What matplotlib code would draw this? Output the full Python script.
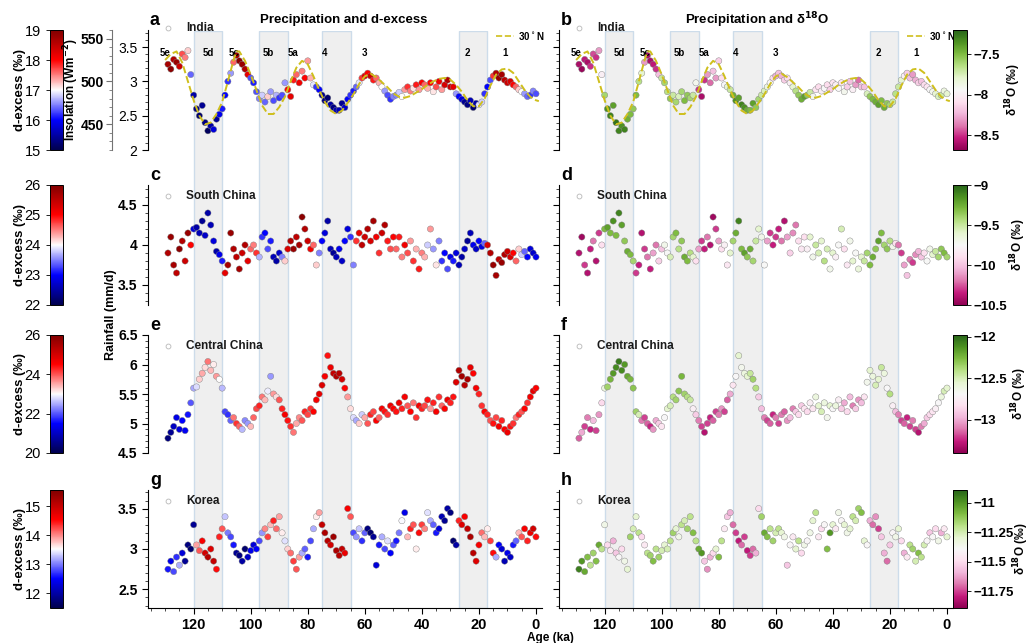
import numpy as np
import matplotlib
matplotlib.use("Agg")
import matplotlib.pyplot as plt
from matplotlib.ticker import MultipleLocator, FuncFormatter
from matplotlib.colors import Normalize
from matplotlib.cm import ScalarMappable

plt.rcParams['font.family'] = ['Liberation Sans', 'DejaVu Sans']
plt.rcParams['axes.linewidth'] = 0.8

# ----------------------------------------------------------------------
# data, ages 129 ka -> 0 ka in 1 ka steps
# ----------------------------------------------------------------------
age = list(range(129, -1, -1))

# 30N insolation (W m-2)
ins_age = [130, 128, 126, 124, 122, 120, 118, 116, 114, 112, 110, 108, 106, 105,
           104, 102, 100, 98, 96, 94, 92, 90, 88, 86, 84, 82, 80, 78, 76, 74,
           72, 70, 68, 66, 64, 62, 60, 58, 56, 54, 52, 50, 48, 46, 44, 42, 40,
           38, 36, 34, 32, 30, 28, 26, 24, 22, 20, 18, 16, 14, 12, 10, 8, 6,
           4, 2, 0, -1]
ins_val = [525, 532, 535, 522, 500, 478, 460, 450, 452, 462, 476, 500, 525, 535,
           535, 524, 508, 490, 472, 462, 462, 470, 482, 500, 516, 524, 520, 506,
           490, 476, 466, 462, 466, 475, 485, 497, 506, 509, 505, 499, 493, 486,
           482, 481, 483, 487, 491, 496, 500, 503, 504, 502, 496, 488, 478, 471,
           471, 480, 495, 508, 514, 515, 510, 500, 490, 482, 478, 477]

india_rain = [3.25, 3.18, 3.32, 3.28, 3.22, 3.40, 3.35, 3.45, 3.10, 2.80,
              2.60, 2.50, 2.65, 2.40, 2.28, 2.35, 2.30, 2.45, 2.52, 2.60,
              2.80, 3.00, 3.12, 3.28, 3.38, 3.30, 3.25, 3.18, 3.10, 3.05,
              2.98, 2.85, 2.75, 2.80, 2.70, 2.78, 2.85, 2.72, 2.80, 2.76,
              2.80, 2.98, 2.88, 2.78, 3.02, 3.10, 2.98, 3.15, 3.05, 3.30,
              3.05, 2.95, 2.92, 2.88, 2.80, 2.72, 2.76, 2.66, 2.62, 2.58,
              2.58, 2.68, 2.62, 2.74, 2.80, 2.86, 2.92, 2.98, 3.05, 3.08,
              3.12, 3.08, 3.02, 3.05, 2.98, 2.92, 2.86, 2.80, 2.74, 2.78,
              2.80, 2.84, 2.78, 2.88, 2.92, 2.86, 2.90, 2.95, 2.88, 2.98,
              2.95, 2.90, 2.98, 2.85, 2.92, 3.00, 2.88, 2.95, 3.02, 2.92,
              2.92, 2.82, 2.78, 2.74, 2.70, 2.66, 2.72, 2.62, 2.68, 2.66,
              2.70, 2.82, 2.92, 3.02, 3.08, 3.12, 3.05, 3.10, 3.02, 2.98,
              3.00, 2.95, 2.92, 2.88, 2.85, 2.82, 2.78, 2.80, 2.86, 2.82]
india_dex = [18.7, 18.9, 18.6, 18.8, 18.4, 17.7, 17.5, 17.2, 16.4, 15.5,
             15.3, 15.2, 15.4, 15.3, 15.1, 15.5, 15.8, 15.4, 15.9, 16.1,
             16.0, 16.2, 16.6, 17.6, 18.7, 18.9, 18.8, 18.6, 18.2, 16.3,
             16.1, 16.3, 16.5, 16.8, 16.4, 17.2, 16.6, 16.3, 16.7, 16.2,
             16.3, 16.6, 18.0, 18.2, 17.9, 17.6, 18.1, 17.5, 18.0, 17.4,
             17.3, 16.9, 16.2, 16.0, 15.4, 15.3, 15.2, 15.5, 15.3, 15.6,
             15.6, 15.4, 15.7, 16.0, 16.2, 16.1, 16.4, 16.9, 17.8, 18.2,
             18.0, 18.4, 17.9, 17.6, 17.3, 17.0, 16.6, 16.3, 16.2, 16.5,
             16.5, 16.8, 17.0, 17.4, 17.8, 17.5, 17.1, 17.9, 17.4, 18.0,
             17.6, 17.3, 18.0, 17.1, 17.7, 18.1, 17.4, 18.3, 18.6, 18.4,
             18.2, 16.6, 16.0, 15.8, 15.4, 15.3, 15.6, 15.2, 15.5, 16.9,
             16.8, 16.2, 16.0, 16.3, 17.8, 18.6, 18.8, 18.7, 18.5, 18.4,
             18.3, 18.0, 17.6, 17.2, 17.0, 16.6, 16.4, 16.2, 16.5, 16.3]
india_d18o = [-8.60, -8.65, -8.55, -8.60, -8.50, -8.45, -8.50, -8.30, -8.00, -7.60,
              -7.35, -7.30, -7.40, -7.25, -7.30, -7.35, -7.30, -7.45, -7.50, -7.55,
              -7.50, -7.65, -7.80, -8.30, -8.60, -8.60, -8.55, -8.50, -8.20, -7.70,
              -7.60, -7.65, -7.55, -7.70, -7.60, -7.75, -7.60, -7.50, -7.55, -7.60,
              -7.70, -7.90, -8.50, -8.60, -8.50, -8.30, -8.40, -8.20, -8.30, -8.15,
              -8.10, -7.95, -7.80, -7.70, -7.45, -7.35, -7.40, -7.30, -7.35, -7.45,
              -7.50, -7.40, -7.55, -7.60, -7.70, -7.75, -7.85, -7.95, -8.10, -8.25,
              -8.20, -8.25, -8.15, -8.10, -8.00, -7.80, -7.65, -7.55, -7.45, -7.40,
              -7.55, -7.70, -7.90, -8.05, -8.10, -8.00, -7.95, -8.10, -8.15, -8.05,
              -8.00, -7.95, -8.05, -7.90, -8.15, -8.20, -8.00, -8.30, -8.40, -8.20,
              -8.20, -7.75, -7.55, -7.50, -7.45, -7.40, -7.50, -7.45, -7.55, -7.60,
              -7.70, -7.65, -7.70, -7.80, -8.00, -8.15, -8.20, -8.30, -8.25, -8.15,
              -8.20, -8.10, -8.05, -7.95, -7.90, -7.80, -7.75, -7.70, -7.85, -7.80]

schina_rain = [3.90, 4.10, 3.75, 3.65, 3.95, 4.05, 3.80, 4.15, 4.00, 4.20,
               4.22, 4.15, 4.30, 4.12, 4.40, 4.25, 4.05, 3.92, 3.88, 3.80,
               3.65, 3.75, 4.15, 3.95, 3.85, 3.70, 3.90, 4.00, 3.80, 3.95,
               4.00, 3.90, 3.85, 4.10, 4.15, 3.95, 4.05, 3.85, 3.80, 3.90,
               3.85, 3.80, 3.95, 4.05, 3.95, 4.10, 4.00, 4.35, 4.20, 4.05,
               3.95, 4.00, 3.75, 3.90, 4.05, 4.15, 4.30, 3.95, 3.90, 3.85,
               3.95, 3.80, 4.05, 4.20, 4.10, 3.75, 4.05, 4.15, 4.00, 4.10,
               4.20, 4.05, 4.30, 4.10, 3.90, 4.15, 4.25, 4.05, 3.95, 4.10,
               3.95, 4.10, 3.85, 4.00, 3.90, 4.05, 3.80, 3.95, 3.70, 3.90,
               3.85, 4.00, 4.20, 3.95, 3.75, 4.05, 3.80, 3.90, 3.70, 3.85,
               3.80, 3.90, 3.75, 3.85, 3.95, 4.05, 4.15, 4.00, 3.95, 4.05,
               3.98, 4.02, 4.00, 3.90, 3.75, 3.62, 3.82, 3.78, 3.88, 3.92,
               3.85, 3.90, 3.80, 3.95, 3.88, 3.92, 3.85, 3.95, 3.90, 3.85]
schina_dex = [25.6, 25.8, 25.7, 25.5, 25.9, 25.6, 25.4, 25.8, 25.0, 22.8,
              22.5, 22.6, 22.4, 22.7, 22.5, 22.6, 22.8, 22.5, 22.9, 23.1,
              25.2, 25.7, 25.8, 25.6, 25.5, 25.7, 25.4, 25.6, 25.2, 24.6,
              24.5, 24.8, 23.7, 23.2, 23.0, 23.3, 23.1, 22.6, 22.5, 22.7,
              23.5, 24.2, 25.3, 25.6, 25.8, 25.5, 25.7, 25.9, 25.6, 25.4,
              25.1, 24.6, 24.2, 23.5, 23.0, 22.8, 22.5, 22.6, 22.4, 22.6,
              22.9, 22.7, 23.0, 22.8, 23.2, 23.5, 24.8, 25.2, 25.5, 25.4,
              25.6, 25.3, 25.7, 25.1, 24.8, 25.4, 25.6, 24.9, 24.7, 25.0,
              24.6, 24.9, 24.5, 25.1, 24.7, 24.4, 24.8, 24.3, 24.9, 24.5,
              24.3, 23.8, 24.4, 23.6, 24.1, 23.5, 23.2, 23.0, 23.3, 22.9,
              23.1, 22.8, 22.6, 22.5, 22.7, 22.4, 22.6, 22.9, 22.7, 23.0,
              22.8, 23.4, 25.3, 25.6, 25.8, 25.7, 25.5, 25.8, 25.6, 25.4,
              25.3, 25.0, 24.6, 24.2, 23.8, 23.4, 23.0, 22.8, 22.7, 22.9]
schina_d18o = [-10.40, -10.45, -10.30, -10.40, -10.35, -10.20, -10.40, -10.30, -9.90, -9.30,
               -9.20, -9.30, -9.15, -9.30, -9.10, -9.20, -9.35, -9.25, -9.30, -9.40,
               -10.30, -10.35, -10.40, -10.30, -10.20, -10.35, -10.10, -10.20, -9.95, -10.00,
               -9.70, -9.75, -9.55, -9.40, -9.30, -9.45, -9.35, -9.25, -9.30, -9.45,
               -9.60, -9.90, -10.10, -10.30, -10.35, -10.20, -10.40, -10.45, -10.30, -10.10,
               -9.90, -9.80, -9.85, -9.60, -9.40, -9.25, -9.10, -9.30, -9.20, -9.35,
               -9.25, -9.40, -9.50, -9.60, -9.70, -9.75, -10.10, -10.30, -10.35, -10.30,
               -10.35, -10.20, -10.40, -10.10, -9.95, -10.15, -10.20, -9.90, -9.85, -9.90,
               -9.80, -9.60, -9.70, -9.50, -9.55, -9.60, -9.45, -9.55, -9.70, -9.60,
               -9.80, -9.75, -9.55, -9.90, -9.85, -9.70, -9.60, -9.75, -9.65, -9.60,
               -9.50, -9.40, -9.30, -9.25, -9.35, -9.20, -9.30, -9.40, -9.35, -9.45,
               -9.70, -9.90, -10.20, -10.30, -10.10, -10.00, -10.20, -10.30, -10.15, -10.05,
               -10.00, -9.90, -9.75, -9.70, -9.60, -9.50, -9.40, -9.35, -9.30, -9.40]

cchina_rain = [4.75, 4.85, 4.95, 5.10, 4.90, 5.05, 4.88, 5.15, 5.35, 5.60,
               5.62, 5.75, 5.85, 5.95, 6.05, 5.90, 6.00, 5.80, 5.75, 5.60,
               5.20, 5.15, 5.05, 5.10, 5.00, 4.95, 4.90, 5.05, 5.00, 4.95,
               5.10, 5.25, 5.30, 5.45, 5.40, 5.55, 5.80, 5.50, 5.45, 5.40,
               5.25, 5.15, 5.05, 4.95, 4.85, 5.00, 5.10, 5.05, 5.20, 5.15,
               5.25, 5.20, 5.40, 5.50, 5.65, 5.80, 6.15, 5.95, 5.85, 5.80,
               5.85, 5.75, 5.60, 5.45, 5.25, 5.10, 5.05, 5.00, 5.15, 5.10,
               5.00, 5.15, 5.20, 5.05, 5.10, 5.25, 5.20, 5.15, 5.30, 5.25,
               5.20, 5.35, 5.25, 5.45, 5.30, 5.20, 5.35, 5.10, 5.30, 5.25,
               5.30, 5.40, 5.25, 5.35, 5.20, 5.45, 5.30, 5.25, 5.40, 5.35,
               5.45, 5.70, 5.90, 5.80, 5.65, 5.75, 5.95, 5.85, 5.60, 5.50,
               5.30, 5.20, 5.15, 5.05, 5.00, 5.10, 4.95, 5.05, 4.90, 4.85,
               4.95, 5.00, 5.10, 5.15, 5.20, 5.25, 5.35, 5.45, 5.55, 5.60]
cchina_dex = [20.4, 20.6, 21.0, 21.3, 21.2, 21.5, 21.4, 21.6, 22.0, 22.5,
              22.8, 23.3, 23.5, 23.2, 23.8, 23.4, 23.1, 23.6, 23.0, 22.6,
              21.9, 21.8, 22.1, 23.8, 24.2, 23.9, 22.6, 22.3, 22.4, 23.4,
              23.9, 24.1, 24.3, 23.8, 23.4, 22.9, 22.4, 23.6, 23.2, 24.0,
              24.3, 24.6, 24.4, 24.2, 23.8, 23.5, 23.7, 24.0, 24.3, 24.1,
              24.2, 24.5, 24.6, 24.8, 24.9, 24.6, 24.4, 24.7, 25.2, 25.4,
              25.3, 25.0, 24.5, 23.6, 23.2, 22.8, 22.5, 23.3, 22.7, 23.5,
              24.0, 24.3, 24.1, 24.5, 23.9, 24.6, 24.4, 24.2, 24.7, 24.5,
              24.4, 24.7, 24.3, 24.6, 24.0, 24.5, 23.8, 24.2, 24.6, 24.3,
              24.1, 24.4, 23.6, 24.3, 24.6, 24.2, 23.9, 24.5, 24.7, 24.3,
              24.4, 24.9, 25.4, 25.6, 25.3, 25.5, 24.8, 24.5, 24.6, 24.3,
              24.2, 24.5, 24.3, 24.0, 24.4, 24.1, 24.6, 24.3, 24.5, 24.7,
              24.4, 24.2, 23.8, 24.3, 24.0, 24.5, 24.2, 24.6, 24.8, 24.5]
cchina_d18o = [-13.15, -13.00, -13.20, -13.10, -13.25, -12.95, -13.20, -13.05, -12.85, -12.60,
               -12.35, -12.25, -12.15, -12.10, -12.05, -12.10, -12.15, -12.20, -12.25, -12.30,
               -12.35, -12.50, -13.10, -13.20, -13.15, -13.25, -13.05, -13.00, -12.90, -12.80,
               -12.70, -12.55, -12.50, -12.40, -12.35, -12.30, -12.25, -12.35, -12.40, -12.45,
               -12.75, -12.90, -13.10, -13.20, -13.30, -13.20, -13.25, -13.15, -13.20, -13.10,
               -13.05, -13.20, -13.15, -13.00, -12.80, -12.70, -12.55, -12.65, -12.60, -12.55,
               -12.45, -12.35, -12.40, -12.90, -12.95, -13.10, -13.20, -13.15, -13.25, -13.10,
               -13.20, -13.10, -13.15, -13.05, -12.95, -13.10, -12.90, -12.85, -12.90, -12.80,
               -12.85, -12.75, -12.80, -12.60, -12.55, -12.50, -12.60, -12.65, -12.55, -12.70,
               -12.60, -12.75, -12.90, -13.00, -12.85, -12.95, -13.10, -12.90, -13.05, -12.95,
               -12.80, -12.65, -12.55, -12.60, -12.50, -12.55, -12.45, -12.60, -12.70, -12.40,
               -12.75, -12.95, -13.10, -13.20, -13.15, -13.25, -13.20, -13.10, -13.20, -13.30,
               -13.10, -13.00, -12.90, -12.85, -12.80, -12.75, -12.70, -12.60, -12.50, -12.55]

korea_rain = [2.75, 2.85, 2.72, 2.90, 2.80, 2.95, 2.85, 3.05, 3.00, 3.30,
              3.05, 2.98, 3.10, 2.95, 2.90, 3.00, 2.85, 2.75, 3.15, 3.25,
              3.40, 3.20, 3.15, 3.05, 2.95, 2.92, 2.85, 3.00, 2.90, 2.98,
              3.05, 3.00, 3.10, 3.20, 3.25, 3.15, 3.30, 3.35, 3.25, 3.40,
              3.20, 3.10, 3.00, 2.95, 2.85, 2.75, 2.90, 2.95, 3.00, 2.90,
              3.10, 3.25, 3.40, 3.45, 3.30, 3.20, 3.10, 3.05, 3.15, 2.98,
              2.92, 3.00, 2.95, 3.50, 3.40, 3.20, 3.15, 3.25, 3.10, 3.20,
              3.25, 3.20, 3.15, 2.80, 3.05, 3.15, 3.00, 3.10, 2.95, 3.05,
              3.10, 3.20, 3.35, 3.45, 3.15, 3.25, 3.30, 3.00, 3.20, 3.30,
              3.25, 3.45, 3.35, 3.30, 3.20, 3.25, 3.40, 3.35, 3.50, 3.45,
              3.10, 3.05, 3.35, 3.30, 3.40, 3.25, 3.15, 2.95, 2.85, 3.05,
              3.20, 3.15, 3.25, 3.10, 2.95, 2.90, 3.05, 3.00, 2.85, 2.95,
              2.90, 3.05, 3.10, 3.20, 3.15, 3.25, 3.10, 3.20, 3.25, 3.15]
korea_dex = [12.6, 12.4, 12.8, 12.7, 13.2, 12.3, 11.9, 11.8, 11.7, 11.9,
             13.9, 14.2, 14.6, 14.9, 15.1, 14.8, 15.0, 14.5, 14.4, 14.2,
             13.3, 13.0, 12.8, 12.6, 11.9, 11.8, 12.0, 11.7, 12.2, 12.4,
             12.3, 12.5, 12.8, 13.1, 14.0, 14.3, 13.8, 14.4, 14.1, 13.9,
             13.6, 13.4, 13.7, 14.1, 14.3, 14.2, 13.9, 13.2, 12.9, 12.6,
             12.8, 13.2, 13.6, 13.9, 15.0, 15.2, 15.1, 14.9, 15.3, 15.2,
             15.1, 15.0, 14.7, 14.6, 14.2, 12.8, 13.1, 13.3, 12.7, 12.9,
             11.8, 11.7, 11.9, 12.3, 12.6, 13.2, 12.8, 13.4, 12.5, 12.9,
             12.6, 13.0, 13.5, 12.4, 13.8, 14.4, 14.2, 13.6, 14.5, 14.3,
             14.0, 13.4, 13.2, 12.9, 12.6, 12.3, 12.1, 11.9, 12.0, 11.8,
             11.7, 12.0, 14.4, 14.8, 14.6, 15.0, 15.2, 15.1, 14.8, 14.6,
             14.1, 13.8, 13.6, 14.3, 14.5, 13.2, 12.5, 12.3, 12.1, 12.4,
             12.2, 12.6, 12.9, 13.8, 14.2, 14.6, 14.4, 14.7, 14.9, 14.5]
korea_d18o = [-10.95, -11.00, -11.05, -11.10, -11.20, -11.15, -11.10, -11.05, -11.20, -11.35,
              -11.50, -11.45, -11.60, -11.55, -11.40, -11.50, -11.35, -11.30, -11.15, -11.25,
              -11.30, -11.20, -11.50, -11.45, -11.20, -11.15, -11.10, -11.20, -11.15, -11.25,
              -11.30, -11.25, -11.20, -11.15, -11.30, -11.35, -11.20, -11.25, -11.15, -11.20,
              -11.10, -11.20, -11.05, -11.00, -11.55, -11.65, -11.60, -11.50, -11.30, -11.10,
              -11.20, -11.45, -11.55, -11.60, -11.70, -11.75, -11.80, -11.70, -11.75, -11.80,
              -11.75, -11.70, -11.60, -11.50, -11.15, -11.05, -11.10, -11.20, -11.15, -11.25,
              -11.20, -11.30, -11.35, -11.55, -11.40, -11.45, -11.30, -11.20, -11.50, -11.35,
              -11.40, -11.35, -11.30, -11.20, -11.45, -11.50, -11.40, -11.10, -11.00, -11.30,
              -11.45, -11.35, -11.40, -11.30, -11.35, -11.30, -11.20, -11.25, -11.15, -11.10,
              -11.30, -11.40, -11.60, -11.70, -11.65, -11.75, -11.55, -11.60, -11.70, -11.55,
              -11.40, -11.35, -11.30, -11.50, -11.60, -11.45, -11.20, -11.15, -11.25, -11.10,
              -11.20, -11.25, -11.40, -11.55, -11.40, -11.50, -11.35, -11.60, -11.45, -11.30]

regions = ["India", "South China", "Central China", "Korea"]
rain = [india_rain, schina_rain, cchina_rain, korea_rain]
dex = [india_dex, schina_dex, cchina_dex, korea_dex]
d18o = [india_d18o, schina_d18o, cchina_d18o, korea_d18o]

rain_lim = [(2.0, 3.75), (3.25, 4.75), (4.5, 6.5), (2.27, 3.73)]
rain_ticks = [[2, 2.5, 3, 3.5], [3.5, 4, 4.5], [4.5, 5, 5.5, 6, 6.5], [2.5, 3, 3.5]]
dex_lim = [(15, 19), (22, 26), (20, 26), (11.5, 15.55)]
dex_ticks = [[15, 16, 17, 18, 19], [22, 23, 24, 25, 26], [20, 22, 24, 26], [12, 13, 14, 15]]
d18o_lim = [(-8.68, -7.2), (-10.5, -9.0), (-13.4, -11.98), (-11.89, -10.89)]
d18o_ticks = [[-8.5, -8, -7.5], [-10.5, -10, -9.5, -9], [-13, -12.5, -12],
              [-11.75, -11.5, -11.25, -11]]

# glacial / stadial bands (ka)
bands = [(120, 110), (97, 87), (75, 65), (27, 17)]
stages = ["5e", "5d", "5c", "5b", "5a", "4", "3", "2", "1"]
stage_age = [130, 115, 106, 94, 85, 74, 60, 24, 11]

# ----------------------------------------------------------------------
# layout in pixels
# ----------------------------------------------------------------------
W, H = 1032, 643
fig = plt.figure(figsize=(W / 100, H / 100), dpi=100)


def rect(x0, x1, top, bot):
    return [x0 / W, 1 - bot / H, (x1 - x0) / W, (bot - top) / H]


rows_px = [(30, 150), (185, 305), (335, 453), (490, 608)]
cols_px = [(148, 541.7), (559, 952.7)]
d18o_label_x = [1013, 1018, 1019, 1021]
xlim = (136, -2)
band_col = "#efefef"
band_edge = "#cddcea"
ins_color = "#cfbf1c"
gfmt = FuncFormatter(lambda v, p: f"{v:g}".replace("-", "\u2212"))

# background axes with the bands (full column height)
for (x0, x1) in cols_px:
    bg = fig.add_axes(rect(x0, x1, 31, rows_px[-1][1]))
    bg.set_xlim(*xlim)
    bg.axis("off")
    for b0, b1 in bands:
        bg.axvspan(b0, b1, facecolor=band_col, edgecolor=band_edge, lw=1.0)

letters = "abcdefgh"
for i in range(4):
    top, bot = rows_px[i]
    for j, (x0, x1) in enumerate(cols_px):
        ax = fig.add_axes(rect(x0, x1, top, bot), facecolor="none")
        if j == 0:
            c, cmap, lim = dex[i], "seismic", dex_lim[i]
        else:
            c, cmap, lim = d18o[i], "PiYG", d18o_lim[i]
        ax.scatter(age, rain[i], c=c, cmap=cmap, vmin=lim[0], vmax=lim[1], s=20,
                   edgecolors="0.5", linewidths=0.3, zorder=3)
        ax.set_xlim(*xlim)
        ax.set_ylim(*rain_lim[i])
        ax.set_yticks(rain_ticks[i])
        ax.yaxis.set_major_formatter(gfmt)
        ax.yaxis.set_minor_locator(MultipleLocator(0.1))
        for s in ["top", "right"]:
            ax.spines[s].set_visible(False)
        ax.tick_params(axis="y", which="major", length=4, width=0.8, labelsize=10)
        ax.tick_params(axis="y", which="minor", length=2, width=0.5)
        if i == 0:
            for lab in ax.get_yticklabels():
                lab.set_fontweight("normal")
        else:
            for lab in ax.get_yticklabels():
                lab.set_fontweight("bold")
        if j == 1:
            ax.tick_params(axis="y", labelleft=False)
        if i < 3:
            ax.spines["bottom"].set_visible(False)
            ax.tick_params(axis="x", which="both", bottom=False, labelbottom=False)
        else:
            ax.set_xticks([120, 100, 80, 60, 40, 20, 0])
            ax.xaxis.set_minor_locator(MultipleLocator(5))
            ax.tick_params(axis="x", which="major", length=4, width=0.8, labelsize=10.5)
            ax.tick_params(axis="x", which="minor", length=2, width=0.5)
            for lab in ax.get_xticklabels():
                lab.set_fontweight("bold")

        # panel letter and region label
        ax.text(0.005, 1.012, letters[2 * i + j], transform=ax.transAxes,
                fontsize=13, fontweight="bold", va="bottom", ha="left")
        ly = 1.017 if i == 0 else 0.905
        ax.plot([0.05], [ly], marker="o", ms=3.5, mfc="none", mec="0.72", mew=0.6,
                transform=ax.transAxes, clip_on=False)
        ax.text(0.097, ly, regions[i], transform=ax.transAxes, fontsize=8.5,
                fontweight="bold", va="center", ha="left", color="0.1")

        if i == 0:
            for sl, sa in zip(stages, stage_age):
                ax.text(sa, 3.42, sl, fontsize=7, fontweight="bold", ha="center",
                        va="center", zorder=5)
            # insolation on its own axis
            ia = fig.add_axes(rect(x0, x1, top, bot), facecolor="none")
            ia.plot(ins_age, ins_val, ls="--", color=ins_color, lw=1.4, zorder=4)
            ia.set_xlim(*xlim)
            ia.set_ylim(420, 560)
            ia.xaxis.set_visible(False)
            for s in ["top", "right", "bottom"]:
                ia.spines[s].set_visible(False)
            if j == 0:
                ia.spines["left"].set_position(("axes", -36 / 393.7))
                ia.spines["left"].set_color("0.45")
                ia.set_yticks([450, 500, 550])
                ia.yaxis.set_minor_locator(MultipleLocator(10))
                ia.tick_params(axis="y", which="major", length=4, color="0.45",
                               labelsize=10, pad=2)
                ia.tick_params(axis="y", which="minor", length=2, color="0.45")
                for lab in ia.get_yticklabels():
                    lab.set_fontweight("bold")
            else:
                ia.spines["left"].set_visible(False)
                ia.yaxis.set_visible(False)
            ia.plot([0.885, 0.93], [0.952, 0.952], ls="--", color=ins_color, lw=1.2,
                    transform=ia.transAxes, clip_on=False)
            ia.text(0.94, 0.952, "30$^\\circ$N", transform=ia.transAxes, fontsize=7,
                    fontweight="bold", va="center", ha="left")

        # colour bars
        norm = Normalize(vmin=lim[0], vmax=lim[1])
        if j == 0:
            cax = fig.add_axes(rect(50, 63, top, bot))
            cb = fig.colorbar(ScalarMappable(norm=norm, cmap=cmap), cax=cax)
            cb.set_ticks(dex_ticks[i])
            cax.yaxis.set_ticks_position("left")
            cax.yaxis.set_major_formatter(gfmt)
            cax.tick_params(labelsize=10.5, length=3, width=0.6)
            cb.outline.set_linewidth(0.7)
            fig.text(20 / W, 1 - (top + bot) / 2 / H, "d-excess (\u2030)", rotation=90,
                     fontsize=9.5, fontweight="bold", ha="center", va="center")
        else:
            cax = fig.add_axes(rect(952.7, 967, top, bot))
            cb = fig.colorbar(ScalarMappable(norm=norm, cmap=cmap), cax=cax)
            cb.set_ticks(d18o_ticks[i])
            cax.yaxis.set_major_formatter(gfmt)
            cax.tick_params(labelsize=9.5, length=3, width=0.6, pad=1.5)
            for lab in cax.get_yticklabels():
                lab.set_fontweight("bold")
            cb.outline.set_linewidth(0.7)
            fig.text(d18o_label_x[i] / W, 1 - (top + bot) / 2 / H,
                     "\u03b4$^{\\mathbf{18}}$O (\u2030)", rotation=90, fontsize=8.5,
                     fontweight="bold", ha="center", va="center")

fig.text(71 / W, 1 - 90 / H, "Insolation (Wm$^{\\mathbf{-2}}$)", rotation=90,
         fontsize=8.5, fontweight="bold", ha="center", va="center")
fig.text(344 / W, 1 - 20 / H, "Precipitation and d-excess", fontsize=9.5,
         fontweight="bold", ha="center", va="center")
fig.text(757 / W, 1 - 20 / H, "Precipitation and \u03b4$^{\\mathbf{18}}$O", fontsize=9.5,
         fontweight="bold", ha="center", va="center")
fig.text(111 / W, 1 - 315 / H, "Rainfall (mm/d)", rotation=90, fontsize=9,
         fontweight="bold", ha="center", va="center")
fig.text(550 / W, 1 - 637.5 / H, "Age (ka)", fontsize=8.5, fontweight="bold",
         ha="center", va="center")

fig.savefig("out.png", dpi=100)
